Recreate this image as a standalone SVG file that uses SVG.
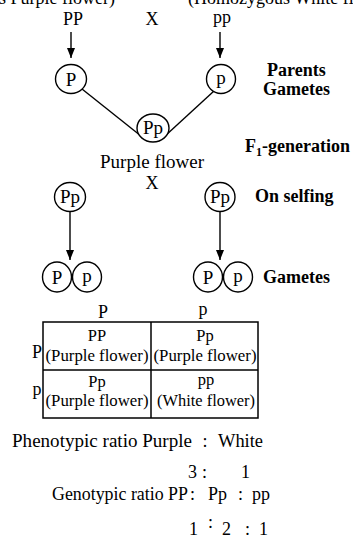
<svg xmlns="http://www.w3.org/2000/svg" width="353" height="540" viewBox="0 0 353 540" font-family="'Liberation Serif', 'DejaVu Serif', serif">
  <style>
    text { font-family: "Liberation Serif", "Times New Roman", "DejaVu Serif", serif; font-size: 18px; fill: #000; }
    .c { text-anchor: middle; }
    .n { text-anchor: middle; font-size: 19px; }
    .b { font-weight: bold; font-size: 18px; }
    .cell { font-size: 16.5px; text-anchor: middle; }
    .node { fill: #fff; stroke: #000; stroke-width: 1.4; }
    .edge { stroke: #000; stroke-width: 1.4; fill: none; }
    .grid { stroke: #000; stroke-width: 1.5; fill: none; }
  </style>
  <defs>
    <marker id="head" markerUnits="userSpaceOnUse" markerWidth="10" markerHeight="10" refX="10" refY="4" orient="auto">
      <path d="M0,0 L10,4 L0,8 z" fill="#000"/>
    </marker>
  </defs>
  <rect width="353" height="540" fill="#fff"/>

  <!-- parent headings (running off the top edge) -->
  <text x="115" y="4" text-anchor="end">(Homozygous Purple flower)</text>
  <text x="188" y="4">(Homozygous White flower)</text>

  <!-- parent genotypes -->
  <text class="c" x="73" y="25">PP</text>
  <text class="c" x="152" y="25">X</text>
  <text class="c" x="222" y="23">pp</text>

  <!-- side labels -->
  <text class="b" x="267" y="76">Parents</text>
  <text class="b" x="263" y="95">Gametes</text>
  <text class="b" x="245" y="152">F<tspan font-size="12" dy="4">1</tspan><tspan dy="-4">-generation</tspan></text>
  <text class="b" x="255" y="202">On selfing</text>
  <text class="b" x="263" y="283">Gametes</text>

  <!-- connectors -->
  <g id="connectors">
    <line class="edge" x1="71" y1="32" x2="71" y2="58" marker-end="url(#head)"/>
    <line class="edge" x1="220" y1="32" x2="220" y2="58" marker-end="url(#head)"/>
    <line class="edge" x1="82" y1="89" x2="141" y2="136"/>
    <line class="edge" x1="214" y1="91" x2="165" y2="136"/>
    <line class="edge" x1="70" y1="212" x2="70" y2="260" marker-end="url(#head)"/>
    <line class="edge" x1="220" y1="212" x2="220" y2="260" marker-end="url(#head)"/>
  </g>

  <!-- parent gametes -->
  <g id="gamete-P">
    <ellipse class="node" cx="71" cy="79" rx="15.5" ry="14.5"/>
    <text class="n" x="71" y="86">P</text>
  </g>
  <g id="gamete-p">
    <ellipse class="node" cx="221" cy="79" rx="14.5" ry="14.5"/>
    <text class="n" x="221" y="84">p</text>
  </g>

  <!-- F1 hybrid -->
  <g id="f1">
    <ellipse class="node" cx="153" cy="128" rx="16" ry="14"/>
    <text class="n" x="153" y="134">Pp</text>
  </g>
  <text class="c" x="152" y="168" textLength="104" lengthAdjust="spacingAndGlyphs">Purple flower</text>
  <text class="c" x="152" y="189">X</text>

  <!-- selfing -->
  <g id="self-left">
    <ellipse class="node" cx="70" cy="197" rx="15.5" ry="14.5"/>
    <text class="n" x="70" y="203">Pp</text>
  </g>
  <g id="self-right">
    <ellipse class="node" cx="220" cy="197" rx="15" ry="14.5"/>
    <text class="n" x="220" y="203">Pp</text>
  </g>

  <!-- F1 gametes -->
  <g id="left-P">
    <ellipse class="node" cx="57" cy="277" rx="14.5" ry="15"/>
    <text class="n" x="57" y="284">P</text>
  </g>
  <g id="left-p">
    <ellipse class="node" cx="87" cy="277" rx="14.5" ry="15"/>
    <text class="n" x="87" y="282">p</text>
  </g>
  <g id="right-P">
    <ellipse class="node" cx="208" cy="277" rx="14.5" ry="15"/>
    <text class="n" x="208" y="284">P</text>
  </g>
  <g id="right-p">
    <ellipse class="node" cx="238" cy="277" rx="14.5" ry="15"/>
    <text class="n" x="238" y="282">p</text>
  </g>

  <!-- Punnett square -->
  <g id="punnett">
    <text class="c" x="103" y="318">P</text>
    <text class="c" x="203" y="315">p</text>
    <text class="c" x="37" y="358" font-size="19">P</text>
    <text class="c" x="37" y="395" font-size="19">p</text>
    <rect class="grid" x="43" y="322" width="215" height="96"/>
    <line class="grid" x1="151" y1="322" x2="151" y2="418"/>
    <line class="grid" x1="43" y1="370" x2="258" y2="370"/>
    <text class="cell" x="97" y="341">PP</text>
    <text class="cell" x="97" y="361" textLength="103" lengthAdjust="spacingAndGlyphs">(Purple flower)</text>
    <text class="cell" x="205" y="341">Pp</text>
    <text class="cell" x="205" y="361" textLength="103" lengthAdjust="spacingAndGlyphs">(Purple flower)</text>
    <text class="cell" x="97" y="387">Pp</text>
    <text class="cell" x="97" y="406" textLength="103" lengthAdjust="spacingAndGlyphs">(Purple flower)</text>
    <text class="cell" x="206" y="385">pp</text>
    <text class="cell" x="206" y="406" textLength="98" lengthAdjust="spacingAndGlyphs">(White flower)</text>
  </g>

  <!-- ratios -->
  <text x="12" y="447" textLength="180" lengthAdjust="spacingAndGlyphs">Phenotypic ratio Purple</text>
  <text class="c" x="205" y="447">:</text>
  <text x="218" y="447" textLength="45" lengthAdjust="spacingAndGlyphs">White</text>
  <text x="188" y="478">3</text>
  <text x="202" y="478">:</text>
  <text x="241" y="478">1</text>
  <text x="52" y="500" textLength="136" lengthAdjust="spacingAndGlyphs">Genotypic ratio PP</text>
  <text x="190" y="500">:</text>
  <text x="208" y="500">Pp</text>
  <text x="238" y="500">:</text>
  <text x="252" y="500">pp</text>
  <text x="189" y="535">1</text>
  <text x="208" y="528">:</text>
  <text x="222" y="535">2</text>
  <text x="245" y="535">:</text>
  <text x="259" y="535">1</text>
</svg>
